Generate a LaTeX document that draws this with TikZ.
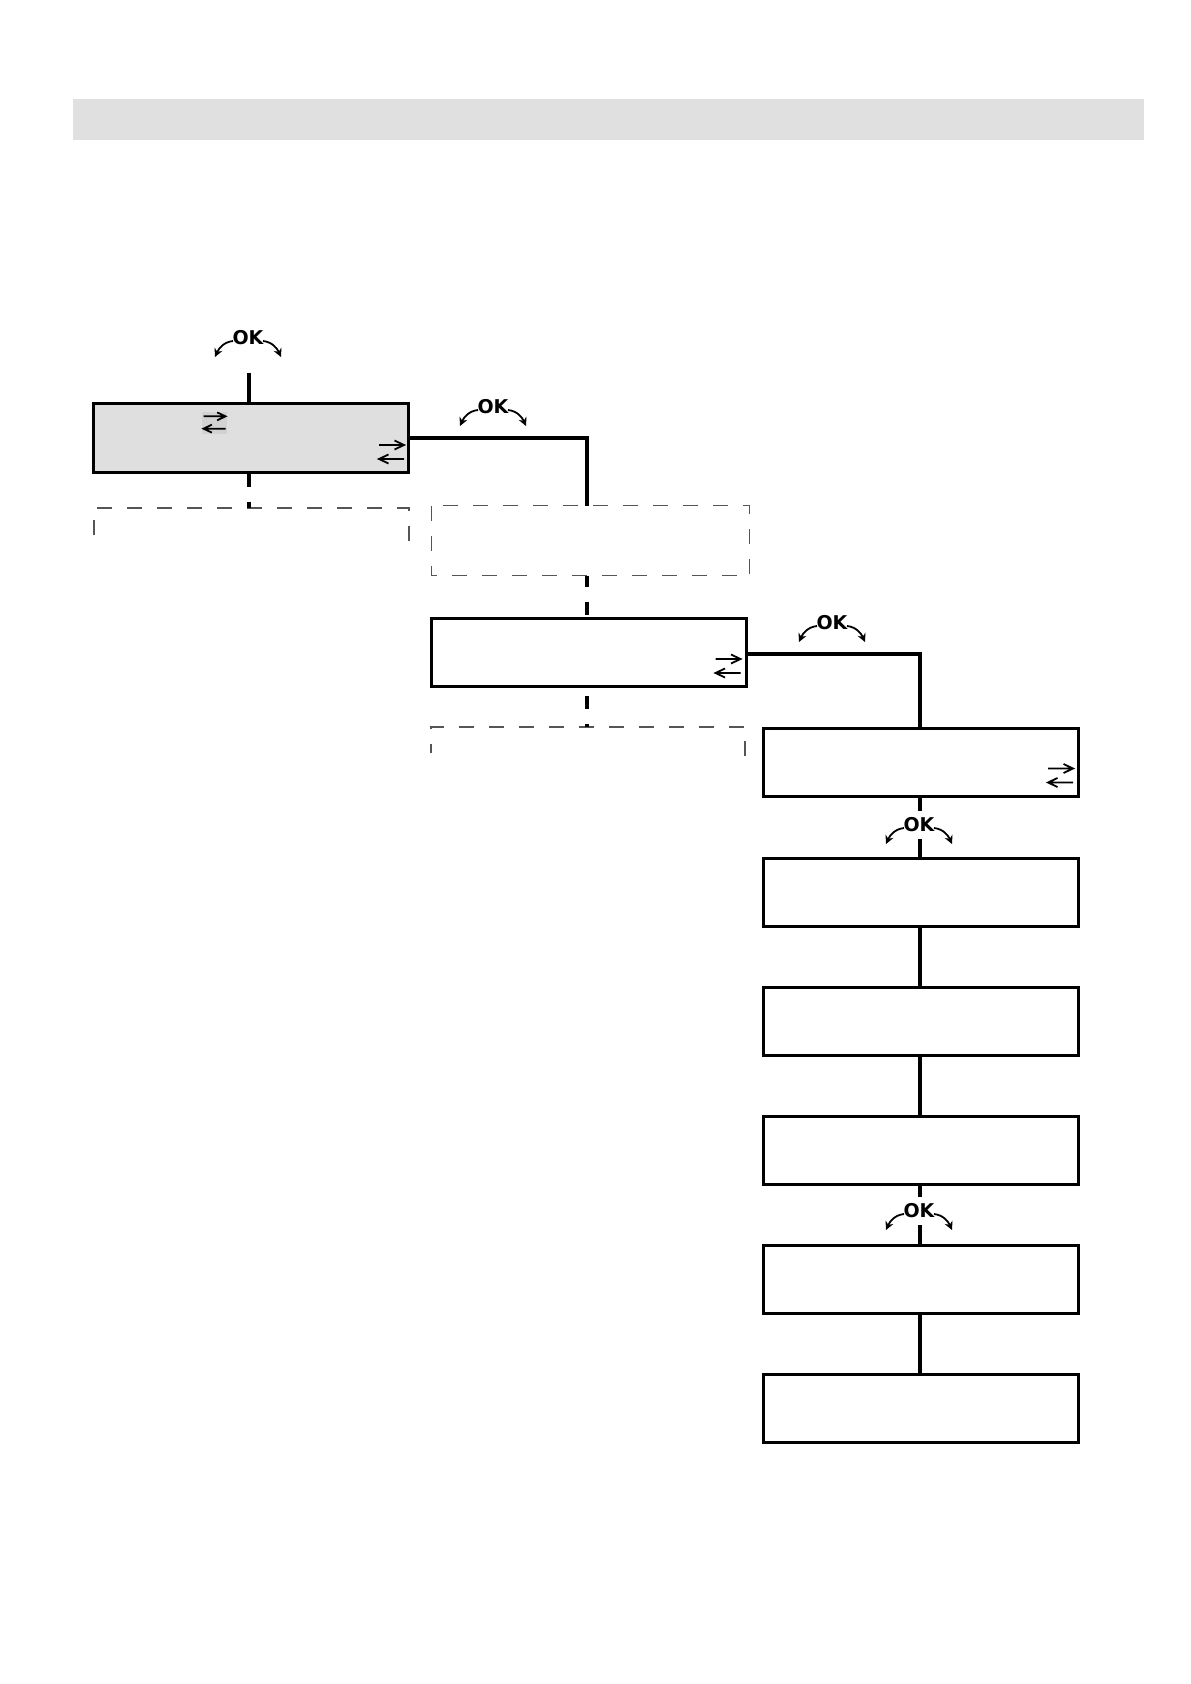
\documentclass[tikz,border=0pt]{standalone}
\usepackage{fontspec}
\newfontfamily\okfamily{DejaVu Sans}
\usetikzlibrary{arrows.meta}
\definecolor{hdrgray}{HTML}{E0E0E0}
\definecolor{boxgray}{HTML}{DFDFDF}
\definecolor{symgray}{HTML}{D2D2D2}
\definecolor{dashgray}{HTML}{555555}
\tikzset{
  menubox/.style={draw, line width=1.5pt, minimum width=157.5pt, minimum height=34pt, inner sep=0pt},
  dashbox/.style={draw=dashgray, line width=0.65pt, dash pattern=on 7.5pt off 7.5pt},
  conn/.style={line width=1.6pt},
  dconn/.style={line width=1.6pt, dash pattern=on 6.5pt off 7.5pt},
  oktext/.style={font=\okfamily\bfseries\fontsize{9.5pt}{11pt}\selectfont, fill=white, inner xsep=0.5pt, inner ysep=3.5pt},
  okarrow/.style={line width=0.9pt, -{Stealth[length=4.2pt,width=4.2pt]}},
  okmark/.pic={
    \node[oktext] (-t) at (0,0) {OK};
    \draw[okarrow] (-15,3) .. controls (-24,4) and (-29,10) .. (-33,19);
    \draw[okarrow] (15,3) .. controls (24,4) and (29,10) .. (33,19);
  },
  swapsym/.pic={
    \draw[line width=0.9pt] (-12.5,-7) -- (12.5,-7) (3,-11.5) -- (12.5,-7) -- (3,-2.5);
    \draw[line width=0.9pt] (12.5,7) -- (-12.5,7) (-3,2.5) -- (-12.5,7) -- (-3,11.5);
  }
}
\begin{document}
\begin{tikzpicture}[x=0.5pt, y=-0.5pt]
\useasboundingbox (0,0) rectangle (1190,1684);

% header bar
\node[fill=hdrgray, minimum width=535.5pt, minimum height=20.5pt, inner sep=0pt] (hdr) at (608.5,119.5) {};

% column coordinates
\coordinate (k0) at (249,373);
\coordinate (k1) at (249,508);
\coordinate (k2) at (587,727);
\coordinate (k3) at (920,727);

% boxes
\node[menubox, fill=boxgray] (b1) at (251,438) {};
\node[menubox, draw=none, minimum width=157.5pt, minimum height=33.5pt] (b2) at (590.5,540.5) {};
\node[menubox] (b3) at (588.5,652.5) {};
\node[menubox] (b4) at (920.5,762) {};
\node[menubox] (b5) at (920.5,892) {};
\node[menubox] (b6) at (920.5,1021) {};
\node[menubox] (b7) at (920.5,1150) {};
\node[menubox] (b8) at (920.5,1279) {};
\node[menubox] (b9) at (920.5,1408) {};

% dashed box 2
\draw[dashbox] (b2.north west) rectangle (b2.south east);

% partial dashed frames
\draw[dashbox] (94,535) -- (94,508) -- (409,508) -- (409,542);
\draw[dashbox, dash phase=3pt] (431,753) -- (431,727) -- (745,727) -- (745,760);

% symbols in boxes
\fill[symgray] (202,412) rectangle (227,434);
\pic[scale=0.88] at (214.5,422.5) {swapsym};
\pic at (391.5,452) {swapsym};
\pic at (728,666) {swapsym};
\pic at (1060.5,775.5) {swapsym};

% connectors
\draw[conn] (k0) -- (k0 |- b1.north);
\draw[conn] (b1.east) -| (k2 |- b2.north);
\draw[dconn] (k1 |- b1.south) -- (k1);
\draw[dconn, dash phase=1pt] (k2 |- b2.south) -- (k2 |- b3.north);
\draw[dconn, dash phase=10pt] (k2 |- b3.south) -- (k2);
\draw[conn] ([yshift=-0.75pt]b3.east) -| (k3 |- b4.north);
\draw[conn] (k3 |- b4.south) -- (k3 |- b5.north);
\draw[conn] (k3 |- b5.south) -- (k3 |- b6.north);
\draw[conn] (k3 |- b6.south) -- (k3 |- b7.north);
\draw[conn] (k3 |- b7.south) -- (k3 |- b8.north);
\draw[conn] (k3 |- b8.south) -- (k3 |- b9.north);

% OK marks
\pic (ok1) at (248,338) {okmark};
\pic (ok2) at (493,407) {okmark};
\pic (ok3) at (832,623) {okmark};
\pic (ok4) at (919,825) {okmark};
\pic (ok5) at (919,1211) {okmark};
\end{tikzpicture}
\end{document}
